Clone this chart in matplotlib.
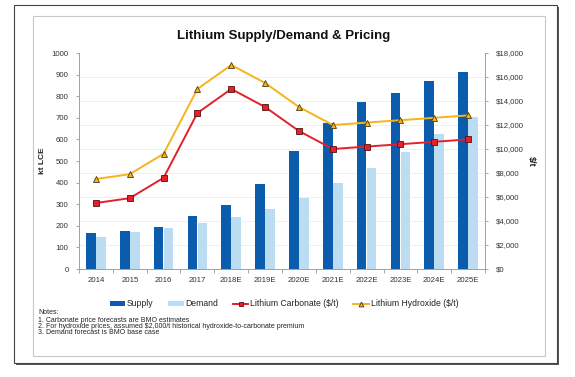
import matplotlib
matplotlib.use("Agg")
import matplotlib.pyplot as plt
from matplotlib.patches import Rectangle
from matplotlib.lines import Line2D
import numpy as np

plt.rcParams["font.family"] = ["Liberation Sans", "DejaVu Sans"]

years = ["2014", "2015", "2016", "2017", "2018E", "2019E", "2020E",
         "2021E", "2022E", "2023E", "2024E", "2025E"]
supply = [165, 176, 193, 245, 295, 393, 545, 677, 775, 813, 870, 913]
demand = [150, 173, 188, 211, 239, 276, 327, 400, 469, 543, 625, 702]
carbonate = [5500, 5900, 7600, 13000, 15000, 13500, 11500, 10000, 10200, 10400, 10600, 10800]
hydroxide = [7500, 7900, 9600, 15000, 17000, 15500, 13500, 12000, 12200, 12400, 12600, 12800]
left_ticks = list(range(0, 1001, 100))
right_ticks = list(range(0, 18001, 2000))
notes = ["Notes:",
         "1. Carbonate price forecasts are BMO estimates",
         "2. For hydroxide prices, assumed $2,000/t historical hydroxide-to-carbonate premium",
         "3. Demand forecast is BMO base case"]

W, H = 575, 377
fig = plt.figure(figsize=(W / 100, H / 100), dpi=100)
fig.patch.set_facecolor("white")

def fx(px):
    return px / W

def fy(py):
    return 1 - py / H

# frames
shadow = Rectangle((fx(16), fy(365)), fx(557 - 14), (363 - 5) / H, transform=fig.transFigure,
                   facecolor="#555555", edgecolor="none", zorder=-3)
fig.patches.append(shadow)
outer = Rectangle((fx(14), fy(363)), fx(557 - 14), (363 - 5) / H, transform=fig.transFigure,
                  facecolor="white", edgecolor="#444444", linewidth=0.8, zorder=-2)
fig.patches.append(outer)
inner = Rectangle((fx(33), fy(356)), fx(545 - 33), (356 - 16) / H, transform=fig.transFigure,
                  facecolor="white", edgecolor="#c8c8c8", linewidth=0.8, zorder=-1)
fig.patches.append(inner)

left, right, top, bottom = 79, 485, 53, 269
ax = fig.add_axes([fx(left), fy(bottom), fx(right - left), (bottom - top) / H])
ax.patch.set_visible(False)
ax2 = ax.twinx()
ax2.patch.set_visible(False)
ax.set_zorder(3)
ax2.set_zorder(4)

x = np.arange(len(years))
bw = 0.29
c_sup = "#0b5cad"
c_dem = "#bcdcf2"
c_carb = "#e3202b"
c_hyd = "#f5b41a"

ax.bar(x - 0.148, supply, width=bw, color=c_sup, zorder=2)
ax.bar(x + 0.148, demand, width=bw, color=c_dem, zorder=2)
ax.set_ylim(0, 1000)
ax.set_xlim(-0.5, len(years) - 0.5)
ax.set_yticks(left_ticks)
ax.set_yticklabels([str(v) for v in left_ticks])
# faint grid at the right-axis tick levels, behind the bars
ax.set_yticks([v * 1000 / 18000 for v in right_ticks], minor=True)
ax.grid(axis="y", which="minor", color="#ececec", lw=0.6, zorder=0)
ax.set_axisbelow(True)
ax.tick_params(axis="y", which="minor", length=0)

ax2.plot(x, carbonate, color=c_carb, lw=1.4, marker="s", ms=4,
         markerfacecolor=c_carb, markeredgecolor="#5a1010", markeredgewidth=0.6, zorder=4)
ax2.plot(x, hydroxide, color=c_hyd, lw=1.4, marker="^", ms=4,
         markerfacecolor=c_hyd, markeredgecolor="#4a3a10", markeredgewidth=0.6, zorder=4)
ax2.set_ylim(0, 18000)
ax2.set_yticks(right_ticks)
ax2.set_yticklabels(["${:,}".format(v) for v in right_ticks])

ax.set_xticks(x)
ax.set_xticklabels(years)
ax.set_xticks(np.arange(-0.5, len(years)), minor=True)
ax.tick_params(axis="x", which="major", length=0, pad=6, labelsize=5.6, colors="#333333")
ax.tick_params(axis="x", which="minor", length=3, color="#999999", width=0.6)
ax.tick_params(axis="y", which="major", length=2.5, color="#999999", width=0.6, labelsize=5.6,
               labelcolor="#333333", pad=5)
ax2.tick_params(axis="y", length=2.5, color="#999999", width=0.6, labelsize=5.6,
                labelcolor="#333333", pad=5)

for a in (ax, ax2):
    a.spines["top"].set_visible(False)
    for s in ("left", "right", "bottom"):
        a.spines[s].set_color("#a0a0a0")
        a.spines[s].set_linewidth(0.7)
ax.spines["right"].set_visible(False)
ax2.spines["left"].set_visible(False)
ax2.spines["bottom"].set_visible(False)

ax.set_ylabel("kt LCE", fontsize=6, fontweight="bold", labelpad=4, color="#222222")
ax2.set_ylabel("$/t", fontsize=6.5, fontweight="bold", rotation=270, labelpad=9, color="#222222")

fig.text(fx(284), fy(36), "Lithium Supply/Demand & Pricing", ha="center", va="center",
         fontsize=9.5, fontweight="bold", color="#111111")

handles = [
    Rectangle((0, 0), 1, 1, facecolor=c_sup, edgecolor="none"),
    Rectangle((0, 0), 1, 1, facecolor=c_dem, edgecolor="none"),
    Line2D([], [], color=c_carb, lw=1.4, marker="s", ms=3.5, markerfacecolor=c_carb,
           markeredgecolor="#5a1010", markeredgewidth=0.6),
    Line2D([], [], color=c_hyd, lw=1.4, marker="^", ms=3.5, markerfacecolor=c_hyd,
           markeredgecolor="#4a3a10", markeredgewidth=0.6),
]
labels = ["Supply", "Demand", "Lithium Carbonate ($/t)", "Lithium Hydroxide ($/t)"]
leg = fig.legend(handles, labels, loc="center", bbox_to_anchor=(fx(284), fy(304)),
                 ncol=4, frameon=False, fontsize=6.2, handlelength=1.8, handleheight=0.5,
                 handletextpad=0.2, columnspacing=1.7)
for t in leg.get_texts():
    t.set_color("#222222")

ny = [313, 320, 326.5, 333]
for s, yy in zip(notes, ny):
    fig.text(fx(38), fy(yy), s, ha="left", va="center", fontsize=5.0, color="#222222")

fig.savefig("out.png", dpi=100, facecolor="white")
